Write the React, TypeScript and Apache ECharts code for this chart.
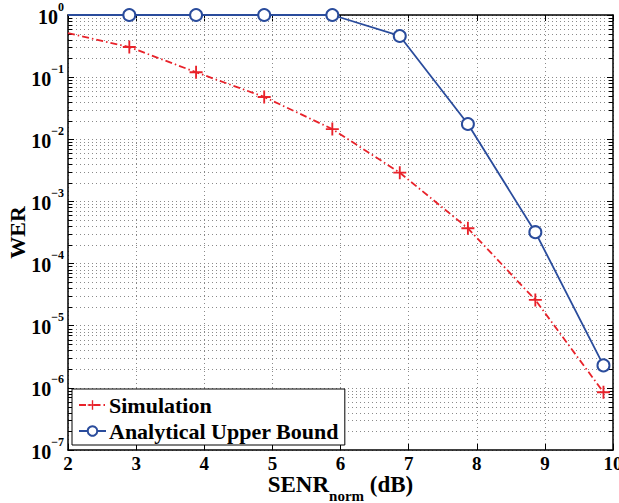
import React, { useEffect, useRef } from "react";
import * as echarts from "echarts";

const xSim = [2, 2.9, 3.88, 4.88, 5.88, 6.87, 7.87, 8.86, 9.86];
const simWER = [0.51, 0.305, 0.12, 0.048, 0.0146, 0.0029, 0.00037, 0.000026, 0.00000085];
const xBound = [2, 2.9, 3.88, 4.88, 5.88, 6.87, 7.87, 8.86, 9.86];
const boundWER = [1, 1, 1, 1, 1, 0.46, 0.0176, 0.00032, 0.0000023];
const decades = [1e-7, 1e-6, 1e-5, 1e-4, 1e-3, 1e-2, 1e-1];
const minorMultipliers = [2, 3, 4, 5, 6, 7, 8, 9];

const FONT = '"Liberation Serif", "Times New Roman", serif';
const RED = "#e8222a";
const BLUE = "#2a4c9c";
const GRID = "#8a8a8a";

export default function App() {
  const ref = useRef<HTMLDivElement>(null);
  useEffect(() => {
    document.body.style.margin = "0";
    const chart = echarts.init(ref.current!, null, { renderer: "svg" });
    const minorData: number[][] = [];
    decades.forEach((d) => minorMultipliers.forEach((m) => minorData.push([2, m * d])));
    const crossPath = "path://M-1,-7 h2 v6 h6 v2 h-6 v6 h-2 v-6 h-6 v-2 h6 z";
    const yLabelFmt = (v: number) => {
      const e = Math.round(Math.log10(v));
      return `{b|10}{s|${e < 0 ? "\u2212" + -e : e}}`;
    };
    chart.setOption({
      animation: false,
      backgroundColor: "#fff",
      grid: { left: 68, right: 6, top: 15, bottom: 53, containLabel: false, outerBoundsMode: "none" },
      legend: {
        data: ["Simulation", "Analytical Upper Bound"],
        orient: "vertical",
        left: 72,
        top: 389,
        itemGap: 4,
        padding: [5, 6, 3, 6],
        borderColor: "#000",
        borderWidth: 1,
        borderRadius: 0,
        backgroundColor: "#fff",
        itemWidth: 27,
        itemHeight: 12,
        textStyle: { fontFamily: FONT, fontWeight: "bold", fontSize: 22, color: "#000", padding: [0, 0, 0, -2] },
      },
      xAxis: [
        {
          type: "value",
          min: 2,
          max: 10,
          interval: 1,
          position: "bottom",
          name: "{b|SENR}{sub|norm}{b| (dB)}",
          nameLocation: "middle",
          nameGap: 23,
          nameMoveOverlap: false,
          nameTextStyle: {
            rich: {
              b: { fontFamily: FONT, fontWeight: "bold", fontSize: 23, color: "#000", lineHeight: 24, verticalAlign: "top" },
              sub: { fontFamily: FONT, fontWeight: "bold", fontSize: 15, color: "#000", lineHeight: 30, verticalAlign: "bottom" },
            },
          },
          axisLine: { lineStyle: { color: "#000", width: 1.5 } },
          axisTick: { inside: true, length: 6, lineStyle: { color: "#000" } },
          axisLabel: { fontFamily: FONT, fontWeight: "bold", fontSize: 19, color: "#000", margin: 4 },
          splitLine: { show: true, lineStyle: { color: GRID, type: [1, 3], width: 1 } },
        },
        {
          type: "value",
          min: 2,
          max: 10,
          interval: 1,
          position: "top",
          axisLine: { lineStyle: { color: "#000", width: 1.5 } },
          axisTick: { inside: true, length: 6, lineStyle: { color: "#000" } },
          axisLabel: { show: false },
          splitLine: { show: false },
        },
      ],
      yAxis: [
        {
          type: "log",
          logBase: 10,
          min: 1e-7,
          max: 1,
          splitNumber: 7,
          position: "left",
          name: "WER",
          nameLocation: "middle",
          nameGap: 40,
          nameMoveOverlap: false,
          nameTextStyle: { fontFamily: FONT, fontWeight: "bold", fontSize: 22, color: "#000" },
          axisLine: { lineStyle: { color: "#000", width: 1.5 } },
          axisTick: { inside: true, length: 6, lineStyle: { color: "#000" } },
          axisLabel: {
            formatter: yLabelFmt,
            margin: 4,
            padding: [0, 0, 3, 0],
            rich: {
              b: { fontFamily: FONT, fontWeight: "bold", fontSize: 20, color: "#000", lineHeight: 26, verticalAlign: "bottom" },
              s: { fontFamily: FONT, fontWeight: "bold", fontSize: 12, color: "#000", lineHeight: 12, verticalAlign: "top" },
            },
          },
          splitLine: { show: true, lineStyle: { color: GRID, type: [1, 3], width: 1 } },
        },
        {
          type: "log",
          logBase: 10,
          min: 1e-7,
          max: 1,
          splitNumber: 7,
          position: "right",
          axisLine: { lineStyle: { color: "#000", width: 1.5 } },
          axisTick: { inside: true, length: 6, lineStyle: { color: "#000" } },
          axisLabel: { show: false },
          splitLine: { show: false },
        },
      ],
      series: [
        {
          type: "custom",
          name: "minor",
          xAxisIndex: 0,
          yAxisIndex: 0,
          z: 1,
          silent: true,
          data: minorData,
          encode: { x: 0, y: 1 },
          renderItem: (params: any, api: any) => {
            const p = api.coord([2, api.value(1)]);
            const cs = params.coordSys;
            const x0 = cs.x;
            const x1 = cs.x + cs.width;
            const y = Math.round(p[1]) + 0.5;
            return {
              type: "group",
              children: [
                { type: "line", shape: { x1: x0, y1: y, x2: x1, y2: y }, style: { stroke: GRID, lineWidth: 1, lineDash: [1, 3] } },
                { type: "line", shape: { x1: x0, y1: y, x2: x0 + 4, y2: y }, style: { stroke: "#000", lineWidth: 1 } },
                { type: "line", shape: { x1: x1 - 4, y1: y, x2: x1, y2: y }, style: { stroke: "#000", lineWidth: 1 } },
              ],
            };
          },
        },
        {
          type: "line",
          name: "Simulation",
          z: 3,
          clip: false,
          data: xSim.map((x, i) =>
            i === 0 ? { value: [x, simWER[i]], symbol: "none" } : [x, simWER[i]]
          ),
          symbol: crossPath,
          symbolSize: 13,
          itemStyle: { color: RED },
          lineStyle: { color: RED, width: 1.8, type: [7, 3, 1.5, 3] },
        },
        {
          type: "line",
          name: "Analytical Upper Bound",
          z: 4,
          clip: false,
          data: xBound.map((x, i) =>
            i === 0 ? { value: [x, boundWER[i]], symbol: "none" } : [x, boundWER[i]]
          ),
          symbol: "emptyCircle",
          symbolSize: 12,
          itemStyle: { color: BLUE, borderColor: BLUE, borderWidth: 1.8 },
          lineStyle: { color: BLUE, width: 1.8 },
        },
      ],
    });
    return () => chart.dispose();
  }, []);
  return <div ref={ref} style={{ width: 619, height: 503 }} />;
}
